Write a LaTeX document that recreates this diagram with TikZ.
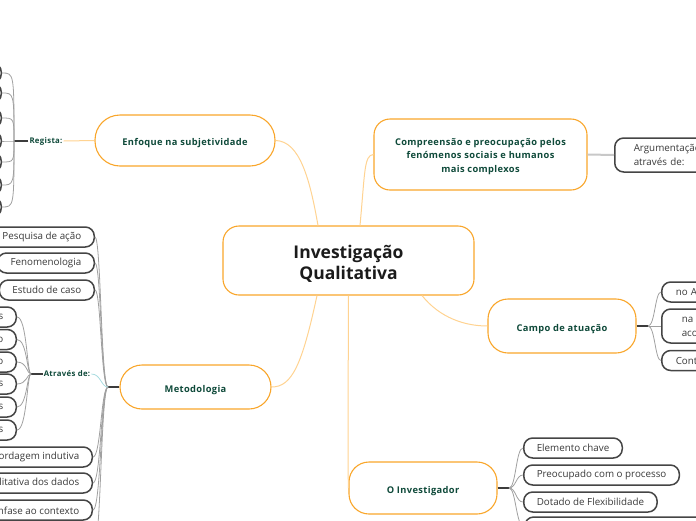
\documentclass[tikz,border=0pt]{standalone}
\usepackage{fontspec}
\setmainfont{Open Sans}
\newfontfamily\topicfont[LetterSpace=4]{Open Sans}
\definecolor{orng}{HTML}{F9A62B}
\definecolor{lorng}{HTML}{FFD391}
\definecolor{dgreen}{HTML}{0F4A3A}
\definecolor{titlecol}{HTML}{1B1B1B}
\definecolor{leafborder}{HTML}{454545}
\definecolor{leaftext}{HTML}{3A3A3A}
\definecolor{fan}{HTML}{A0A0A0}
\definecolor{hubline}{HTML}{3C3C3C}
\definecolor{cyanl}{HTML}{A9DCE0}
\definecolor{grayl}{HTML}{C8C8C8}
\begin{document}
\begin{tikzpicture}[x=1pt,y=-1pt,
  topic/.style={draw=orng, line width=1.1pt, fill=white, text=dgreen,
    font=\topicfont\bfseries\fontsize{9.3}{13.5}\selectfont, align=center, inner sep=0pt,
    text height=10.5pt, text depth=0pt},
  topictext/.style={text=dgreen, font=\topicfont\bfseries\fontsize{9.3}{13.5}\selectfont, align=center, inner sep=0pt},
  leaf/.style={draw=leafborder, line width=1.5pt, fill=white, text=leaftext,
    font=\fontsize{9.8}{14}\selectfont, minimum height=20pt, rounded corners=9pt,
    inner xsep=13pt, inner ysep=0pt},
  lbl/.style={text=dgreen, font=\topicfont\bfseries\fontsize{7.8}{9}\selectfont, inner sep=1pt},
  mainlink/.style={draw=lorng, line width=1pt},
  fanlink/.style={draw=fan, line width=0.8pt},
  hublink/.style={draw=hubline, line width=1.3pt},
]
\useasboundingbox (0,0) rectangle (696,520);

% ---- main topics
\node[topic, minimum width=251pt, minimum height=69pt, rounded corners=16pt] (c) at (348.5,260.5) {};
\node[topictext, text=titlecol, font=\bfseries\fontsize{17.5}{21}\selectfont] (ct) at (348.5,263.5) {Investigação\\Qualitativa};
\node[topic, minimum width=180pt, minimum height=51pt, rounded corners=25pt] (enf) at (185,140.5) {Enfoque na subjetividade};
\node[topic, minimum width=213pt, minimum height=71pt, rounded corners=16pt] (comp) at (480.5,154.5) {};
\node[topictext] (compt) at (480.5,156.5)
  {Compreensão e preocupação pelos\\fenómenos sociais e humanos\\mais complexos};
\node[topic, minimum width=148pt, minimum height=54pt, rounded corners=20pt] (campo) at (562,326) {Campo de atuação};
\node[topic, minimum width=151pt, minimum height=44pt, rounded corners=22pt] (met) at (195.5,387) {Metodologia};
\node[topic, minimum width=148pt, minimum height=52pt, rounded corners=20pt] (inv) at (423,488) {O Investigador};

% ---- central links
\draw[mainlink] ([xshift=-30.5pt]c.north) .. controls (310,180) and (300,141) .. (enf.east);
\draw[mainlink] ([xshift=11.5pt]c.north) .. controls (365,172) and (364,155) .. (comp.west);
\draw[mainlink] ([xshift=73.5pt]c.south) .. controls (440,318) and (465,326) .. (campo.west);
\draw[mainlink] ([xshift=-31.5pt]c.south) .. controls (302,365) and (292,387) .. (met.east);
\draw[mainlink] (c.south) .. controls (348,400) and (348,488) .. (inv.west);

% ---- Enfoque -> Regista
\node[lbl] (reg) at (46,141) {Regista:};
\coordinate (hubR) at (14,141);
\draw[mainlink] (enf.west) -- (reg.east);
\draw[hublink] (reg.west) -- (hubR);
\foreach \i/\y in {1/73,2/93,3/118,4/141,5/162,6/185,7/207} {
  \node[leaf, minimum width=80pt, anchor=east] (r\i) at (2,\y) {};
  \draw[fanlink] (hubR) .. controls (14,\y) and (14,\y) .. (r\i.east);
}

% ---- Compreensao -> Argumentacao
\node[leaf, anchor=west, text width=90pt, align=left, inner xsep=19pt, minimum height=34pt] (arg) at (614,155)
  {Argumentação\\através de:};
\draw[draw=grayl, line width=2pt] (comp.east) -- (arg.west);

% ---- Campo de atuacao
\coordinate (hubC) at (648,326);
\draw[hublink] (campo.east) -- (hubC);
\node[leaf, anchor=west, text width=60pt, align=left, inner xsep=14pt] (c1) at (661,292) {no A};
\node[leaf, anchor=west, text width=60pt, align=left, inner xsep=20pt, minimum height=34pt] (c2) at (661,326) {na l\\aco};
\node[leaf, anchor=west, text width=60pt, align=left, inner xsep=14pt] (c3) at (661,360.5) {Cont};
\foreach \n in {c1,c2,c3} {
  \draw[fanlink] (hubC) .. controls (655,326) and (655,326 |- \n.west) .. (\n.west);
}

% ---- Metodologia
\coordinate (hubM) at (108,387);
\draw[hublink] (met.west) -- (hubM);
\node[leaf, anchor=east] (p1) at (95,237) {Pesquisa de ação};
\node[leaf, anchor=east] (p2) at (95,263) {Fenomenologia};
\node[leaf, anchor=east] (p3) at (95,290) {Estudo de caso};
\node[leaf, anchor=east] (p4) at (93,457) {Abordagem indutiva};
\node[leaf, anchor=east] (p5) at (93,483) {qualitativa dos dados};
\node[leaf, anchor=east] (p6) at (93,510) {Ênfase ao contexto};
\coordinate (pOff) at (95,540);
\foreach \n in {p1,p2,p3,p4,p5,p6,pOff} {
  \draw[fanlink] (hubM) .. controls (101,387) and (101,387 |- \n) .. (\n.east);
}

% ---- Atraves de
\node[lbl] (atr) at (67,374) {Através de:};
\coordinate (hubA) at (31,374);
\draw[draw=cyanl, line width=0.8pt] (atr.east) .. controls (101,374) and (101,387) .. (hubM);
\draw[hublink] (atr.west) -- (hubA);
\foreach \i/\y/\t in {1/317/s,2/339.5/o,3/362/o,4/384/s,5/407/s,6/430/s} {
  \node[leaf, anchor=east, text width=60pt, align=right] (a\i) at (17,\y) {\t};
  \draw[fanlink] (hubA) .. controls (27,374) and (27,\y) .. (a\i.east);
}

% ---- O Investigador
\coordinate (hubI) at (509,488);
\draw[hublink] (inv.east) -- (hubI);
\node[leaf, anchor=west] (i1) at (523,448) {Elemento chave};
\node[leaf, anchor=west] (i2) at (523,475) {Preocupado com o processo};
\node[leaf, anchor=west] (i3) at (523,502) {Dotado de Flexibilidade};
\node[leaf, anchor=west, minimum width=200pt] (i4) at (524,527) {};
\foreach \n in {i1,i2,i3,i4} {
  \draw[fanlink] (hubI) .. controls (516,488) and (516,488 |- \n.west) .. (\n.west);
}
\end{tikzpicture}
\end{document}
